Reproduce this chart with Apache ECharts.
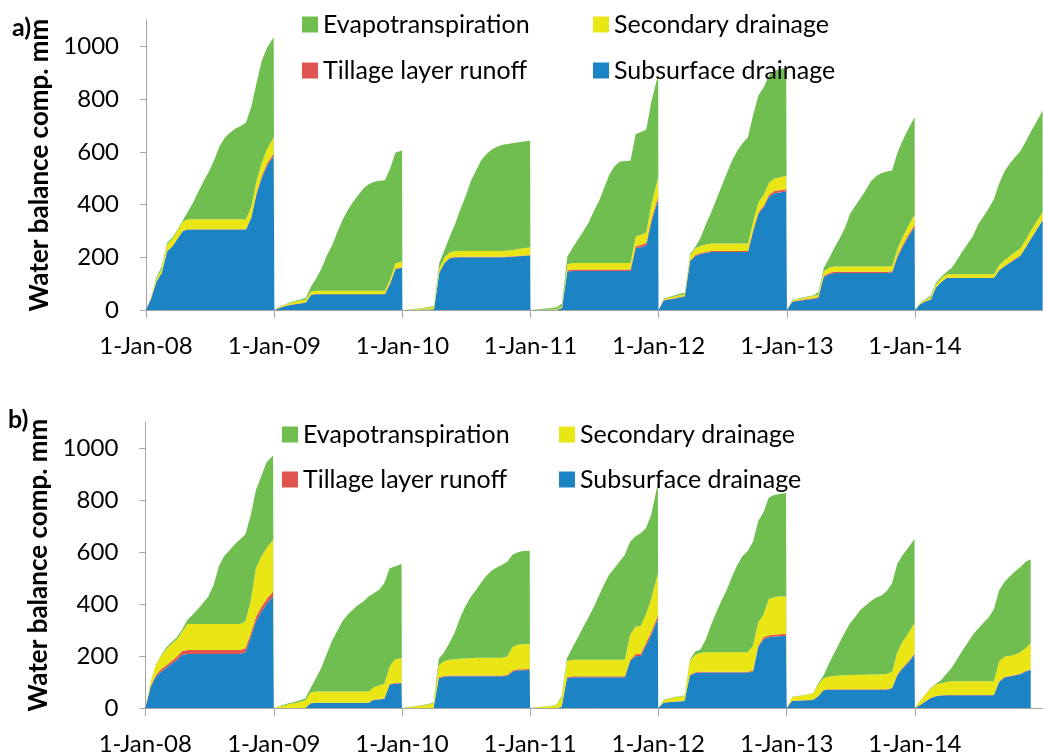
<!DOCTYPE html>
<html>
<head>
<meta charset="utf-8">
<script src="https://cdn.jsdelivr.net/npm/echarts@6/dist/echarts.min.js"></script>
<style>
html,body{margin:0;padding:0;background:#ffffff;}
#chart{width:1043px;height:756px;}
</style>
</head>
<body>
<div id="chart"></div>
<script>
// ---------------- DATA ----------------
const years = [2008, 2009, 2010, 2011, 2012, 2013, 2014];
// day offsets (from 1 January) at which the cumulative values were read
const sampleDays = [0,15,30,45,60,75,90,105,120,135,150,165,180,195,210,225,240,255,270,285,300,315,330,345,364];
const xTickLabels = ['1-Jan-08','1-Jan-09','1-Jan-10','1-Jan-11','1-Jan-12','1-Jan-13','1-Jan-14'];
const yTickLabels = ['0','200','400','600','800','1000'];
const seriesNames = ['Subsurface drainage','Tillage layer runoff','Secondary drainage','Evapotranspiration'];

// Panel a) cumulative components, mm (one row per year)
const aSubsurface = [
  [0,45,108,140,222,241,270,300,305,305,305,305,305,305,305,305,305,305,305,305,349,438,501,546,585],
  [0,8,14,19,22,25,28,58,60,60,60,60,60,60,60,60,60,60,60,60,60,60,100,155,160],
  [0,0,1,1,2,2,3,140,178,196,199,200,200,200,200,200,200,200,200,200,201,202,204,205,207],
  [0,0,0,0,0,1,8,146,148,148,148,148,148,148,148,148,148,148,148,148,235,238,245,335,420],
  [0,36,40,43,47,50,185,205,212,216,220,220,220,220,220,220,220,220,300,365,390,430,443,446,450],
  [0,30,34,37,40,42,46,125,135,140,140,140,140,140,140,140,140,140,140,140,142,200,240,275,315],
  [0,22,32,40,85,105,121,121,121,121,121,121,121,121,121,121,150,165,178,192,205,235,268,300,340]
];
const aTillage = [
  [0,1,1,1,1,1,1,1,1,1,1,1,1,1,1,1,1,1,1,1,3,6,8,10,10],
  [0,1,1,1,1,1,1,1,1,1,1,1,1,1,1,1,1,1,1,1,1,1,2,2,2],
  [0,0,0,0,0,0,0,2,2,2,2,2,2,2,2,2,2,2,2,2,2,2,2,2,2],
  [0,0,0,0,0,0,1,5,6,6,6,6,6,6,6,6,6,6,6,6,8,9,10,10,11],
  [0,2,2,2,2,3,3,4,4,4,4,4,4,4,4,4,4,4,5,6,6,7,8,8,8],
  [0,2,2,2,3,3,3,4,5,5,5,5,5,5,5,5,5,5,5,5,5,6,7,8,8],
  [0,1,1,1,1,1,1,1,1,1,1,1,1,1,1,1,2,2,2,2,2,2,2,2,2]
];
const aSecondary = [
  [0,5,10,15,25,28,30,35,38,38,38,38,38,38,38,38,38,38,38,38,40,45,50,55,60],
  [0,3,5,7,9,10,11,12,12,12,12,12,12,12,12,12,12,12,12,12,12,12,15,20,22],
  [0,1,2,4,5,7,9,15,19,21,22,22,22,22,22,22,22,22,22,22,23,24,25,27,28],
  [0,0,1,1,2,3,5,22,24,24,24,24,24,24,24,24,24,24,24,24,36,38,40,58,72],
  [0,4,5,6,7,7,20,25,27,28,28,28,28,28,28,28,28,28,32,38,42,46,48,50,50],
  [0,4,5,6,7,8,9,18,20,20,20,20,20,20,20,20,20,20,20,20,20,25,30,34,38],
  [0,4,6,8,12,14,14,14,14,14,14,14,14,14,14,14,18,22,24,25,26,28,30,30,30]
];
const aEvapotranspiration = [
  [0,1,6,9,7,5,4,4,31,66,106,146,183,227,278,310,329,344,354,367,378,371,386,384,380],
  [0,1,1,2,3,4,6,19,48,86,136,174,225,270,308,339,365,390,405,413,417,419,420,420,421],
  [0,1,1,1,2,2,3,21,29,60,103,157,207,265,305,345,369,385,395,403,404,405,405,405,405],
  [0,2,3,5,6,6,11,30,57,88,120,152,196,234,285,336,368,385,387,388,389,390,390,390,390],
  [0,3,3,4,6,5,4,6,32,77,118,168,218,268,316,353,381,403,405,406,407,407,408,409,410],
  [0,2,2,2,2,2,10,12,35,70,105,145,200,230,260,290,324,343,355,360,362,365,366,368,370],
  [0,1,3,6,6,6,8,24,54,86,114,144,188,219,249,284,310,336,351,360,368,372,375,378,385]
];

// Panel b) cumulative components, mm (one row per year; 2014 read up to the visible edge)
const bSubsurface = [
  [0,80,120,140,155,170,185,205,208,208,208,208,208,208,208,208,208,208,208,215,270,333,370,400,429],
  [0,0,0,0,0,0,0,18,19,19,19,19,19,19,19,19,19,19,19,32,33,36,90,93,95],
  [0,0,0,0,0,0,0,115,120,122,122,122,122,122,122,122,122,122,122,122,123,140,145,145,146],
  [0,0,0,0,0,0,5,115,118,118,118,118,118,118,118,118,118,118,118,180,199,200,240,280,345],
  [0,20,22,24,25,27,125,135,137,137,137,137,137,137,137,137,137,137,140,235,265,272,275,276,278],
  [0,27,28,29,30,31,45,68,70,70,70,70,70,70,70,70,70,70,70,70,75,125,152,172,205],
  [0,12,25,38,45,48,49,49,49,49,49,49,49,49,49,49,100,117,121,125,130,140,147]
];
const bTillage = [
  [0,4,7,9,10,11,12,14,15,15,15,15,15,15,15,15,15,15,15,15,16,17,18,19,20],
  [0,0,0,0,0,0,0,1,1,1,1,1,1,1,1,1,1,1,1,1,1,1,2,3,3],
  [0,0,0,0,0,0,0,3,3,3,3,3,3,3,3,3,3,3,3,3,4,4,4,4,4],
  [0,0,0,0,0,0,0,3,4,4,4,4,4,4,4,4,4,4,4,5,8,9,10,12,13],
  [0,1,1,1,1,1,2,3,3,3,3,3,3,3,3,3,3,3,4,6,7,7,8,8,8],
  [0,1,1,1,1,1,1,2,2,2,2,2,2,2,2,2,2,2,2,2,3,4,4,5,5],
  [0,0,1,1,1,1,1,1,1,1,1,1,1,1,1,1,2,2,2,2,2,2,2]
];
const bSecondary = [
  [0,16,38,51,62,66,68,75,100,100,100,100,100,100,100,100,100,100,100,103,125,188,193,196,198],
  [0,5,10,15,19,24,30,41,44,44,44,44,44,44,44,44,44,44,44,47,54,55,68,92,94],
  [0,3,5,8,10,13,18,47,57,61,63,65,66,67,68,68,68,68,68,68,71,91,95,96,96],
  [0,2,4,6,8,12,35,62,64,64,64,64,64,64,64,64,64,64,64,95,107,107,110,128,161],
  [0,9,12,15,17,17,53,67,72,75,75,75,75,75,75,75,75,75,96,89,88,141,144,145,143],
  [0,14,16,18,21,24,44,45,48,51,53,54,55,55,56,56,57,57,58,59,62,86,99,108,117],
  [0,16,26,36,44,46,50,53,53,53,53,53,53,53,53,53,78,78,78,78,83,88,101]
];
const bEvapotranspiration = [
  [0,1,2,3,7,7,7,8,17,36,58,82,107,152,225,262,284,307,327,335,329,300,310,330,325],
  [0,2,3,4,5,6,8,17,51,90,141,192,231,269,295,314,333,346,365,362,367,389,378,357,362],
  [0,1,1,1,2,2,3,25,35,64,102,155,199,233,259,289,315,335,348,359,365,355,356,359,359],
  [0,1,1,1,1,1,5,12,45,83,122,160,199,243,288,327,352,378,404,360,346,357,332,324,346],
  [0,2,2,2,2,3,5,13,13,47,103,153,198,239,290,335,370,389,400,390,395,390,393,395,399],
  [0,1,1,1,1,1,5,10,50,87,125,164,198,223,250,267,283,296,303,319,340,340,333,330,324],
  [0,1,1,2,3,13,32,52,85,117,147,179,202,224,245,277,272,288,305,321,327,332,323]
];

// ---------------- BUILD ----------------
const DAY = 86400000;
const COLORS = {
  'Subsurface drainage': '#1C83C4',
  'Tillage layer runoff': '#E05550',
  'Secondary drainage': '#EAE514',
  'Evapotranspiration': '#70BE50'
};
const FONT = 'Lato, "Open Sans", sans-serif';
const AXIS_GRAY = '#A6A6A6';

function toPoints(rows) {
  const pts = [];
  rows.forEach((row, yi) => {
    const start = Date.UTC(years[yi], 0, 1);
    row.forEach((v, i) => pts.push([start + sampleDays[i] * DAY, v]));
  });
  return pts;
}

const panels = [
  { data: [aSubsurface, aTillage, aSecondary, aEvapotranspiration] },
  { data: [bSubsurface, bTillage, bSecondary, bEvapotranspiration] }
];

const series = [];
panels.forEach((p, pi) => {
  p.data.forEach((rows, si) => {
    const name = seriesNames[si];
    series.push({
      name: name,
      type: 'line',
      xAxisIndex: pi,
      yAxisIndex: pi,
      stack: 'panel' + pi,
      symbol: 'none',
      showSymbol: false,
      smooth: false,
      lineStyle: { width: 0 },
      areaStyle: { color: COLORS[name], opacity: 1 },
      itemStyle: { color: COLORS[name] },
      emphasis: { disabled: true },
      animation: false,
      data: toPoints(rows)
    });
  });
});

function xAxis(gi) {
  return {
    type: 'time',
    gridIndex: gi,
    min: Date.UTC(years[0], 0, 1),
    max: Date.UTC(years[years.length - 1] + 1, 0, 1),
    splitNumber: 7,
    minInterval: 365 * DAY,
    axisLine: { show: true, lineStyle: { color: AXIS_GRAY, width: 1 } },
    axisTick: { show: true, length: 8, inside: false, lineStyle: { color: AXIS_GRAY } },
    splitLine: { show: false },
    axisLabel: {
      margin: 24,
      fontSize: 24,
      fontFamily: FONT,
      color: '#000',
      hideOverlap: false,
      formatter: function (val) {
        const d = new Date(val);
        if (d.getUTCMonth() !== 0 || d.getUTCDate() !== 1) return '';
        const idx = years.indexOf(d.getUTCFullYear());
        return idx >= 0 ? xTickLabels[idx] : '';
      }
    }
  };
}

function yAxis(gi) {
  return {
    type: 'value',
    gridIndex: gi,
    min: 0,
    max: 1100,
    interval: 200,
    name: 'Water balance comp. mm',
    nameLocation: 'middle',
    nameGap: 81,
    nameTextStyle: { fontSize: 26, fontWeight: 'bold', fontFamily: FONT, color: '#000' },
    axisLine: { show: true, lineStyle: { color: AXIS_GRAY, width: 1 } },
    axisTick: { show: true, length: 6, inside: false, lineStyle: { color: AXIS_GRAY } },
    splitLine: { show: false },
    axisLabel: {
      margin: 27,
      fontSize: 24,
      fontFamily: FONT,
      color: '#000',
      showMaxLabel: false,
      formatter: function (val) {
        const s = String(val);
        return yTickLabels.indexOf(s) >= 0 ? s : '';
      }
    }
  };
}

function legendItem(name, left, top) {
  return {
    data: [name],
    left: left,
    top: top,
    padding: 0,
    itemWidth: 16,
    itemHeight: 16,
    icon: 'rect',
    selectedMode: false,
    textStyle: { fontSize: 25, fontFamily: FONT, color: '#000', lineHeight: 16 }
  };
}

const option = {
  useUTC: true,
  animation: false,
  backgroundColor: '#ffffff',
  grid: [
    { left: 146, top: 20, width: 899.5, height: 290 },
    { left: 145.3, top: 422.3, width: 910.5, height: 286 }
  ],
  xAxis: [xAxis(0), xAxis(1)],
  yAxis: [yAxis(0), yAxis(1)],
  legend: [
    legendItem('Evapotranspiration', 302, 12),
    legendItem('Secondary drainage', 593, 12),
    legendItem('Tillage layer runoff', 302, 58),
    legendItem('Subsurface drainage', 593, 58),
    legendItem('Evapotranspiration', 282, 422),
    legendItem('Secondary drainage', 559, 422),
    legendItem('Tillage layer runoff', 282, 467),
    legendItem('Subsurface drainage', 559, 467)
  ],
  graphic: [
    { type: 'text', left: 12, top: 15, style: { text: 'a)', fontSize: 25, fontWeight: 'bold', fontFamily: FONT, fill: '#000' } },
    { type: 'text', left: 8, top: 407, style: { text: 'b)', fontSize: 25, fontWeight: 'bold', fontFamily: FONT, fill: '#000' } }
  ],
  series: series
};

const chart = echarts.init(document.getElementById('chart'), null, { renderer: 'canvas', width: 1043, height: 756 });
chart.setOption(option);
</script>
</body>
</html>
